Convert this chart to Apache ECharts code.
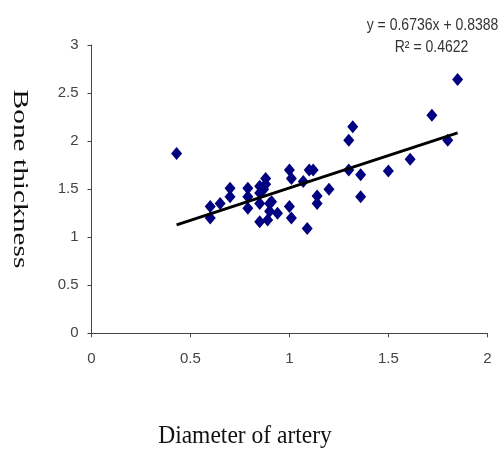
<!DOCTYPE html>
<html><head><meta charset="utf-8">
<script src="https://cdn.jsdelivr.net/npm/echarts@6/dist/echarts.min.js"></script>
<style>html,body{margin:0;padding:0;background:#fff}#c{width:503px;height:450px}</style>
</head><body><div id="c"></div>
<script>
var diameter = [0.43,0.60,0.60,0.65,0.70,0.70,0.79,0.79,0.79,0.85,0.85,0.85,0.85,0.88,0.88,0.87,0.91,0.90,0.94,0.89,0.90,1.00,1.01,1.00,1.01,1.07,1.09,1.10,1.12,1.14,1.14,1.20,1.30,1.32,1.30,1.36,1.36,1.50,1.61,1.72,1.80,1.85];
var thickness = [1.87,1.32,1.20,1.35,1.51,1.42,1.51,1.42,1.30,1.16,1.35,1.46,1.53,1.61,1.55,1.50,1.37,1.27,1.25,1.18,1.35,1.70,1.61,1.32,1.20,1.58,1.09,1.70,1.70,1.43,1.35,1.50,2.01,2.15,1.70,1.65,1.42,1.69,1.81,2.27,2.01,2.64];
var slope = 0.6736, intercept = 0.8388;
var trendRange = [0.43, 1.85];
var eqText = 'y = 0.6736x + 0.8388';
var r2Text = 'R\u00b2 = 0.4622';
var xTitle = 'Diameter of artery';
var yTitle = 'Bone thickness';

var pts = diameter.map(function(d,i){return [d, thickness[i]];});
var trend = trendRange.map(function(x){return [x, slope*x+intercept];});
var tickFont = {color:'#444', fontSize:15, fontFamily:'Liberation Sans Narrow, Liberation Sans, Arial'};
var serif = '21px "Liberation Serif", "Times New Roman", serif';
var narrow = '14px "Liberation Sans Narrow", "Liberation Sans", Arial';
var chart = echarts.init(document.getElementById('c'));
chart.setOption({
  animation:false,
  backgroundColor:'#fff',
  grid:{left:91.5,right:15.7,top:45,bottom:116.7},
  xAxis:{type:'value',min:0,max:2,interval:0.5,
    axisLine:{lineStyle:{color:'#444',width:1}},
    axisTick:{show:true,length:4,lineStyle:{color:'#444'}},
    splitLine:{show:false},
    axisLabel:Object.assign({margin:18,formatter:function(v){return String(v);}},tickFont)},
  yAxis:{type:'value',min:0,max:3,interval:0.5,
    axisLine:{show:true,lineStyle:{color:'#444',width:1}},
    axisTick:{show:true,length:4,lineStyle:{color:'#444'}},
    splitLine:{show:false},
    axisLabel:Object.assign({margin:13,formatter:function(v){return String(v);}},tickFont)},
  series:[
    {type:'line',data:trend,symbol:'none',lineStyle:{color:'#000',width:3},z:3},
    {type:'scatter',data:pts,symbol:'diamond',symbolSize:[11,13],itemStyle:{color:'#000080',opacity:1},z:2}
  ],
  graphic:[
    {type:'text',x:432.5,y:26,scaleY:1.15,style:{text:eqText,fill:'#333',font:narrow,align:'center',verticalAlign:'middle',textAlign:'center',textVerticalAlign:'middle'}},
    {type:'text',x:431.5,y:48,scaleY:1.15,style:{text:r2Text,fill:'#333',font:narrow,align:'center',verticalAlign:'middle',textAlign:'center',textVerticalAlign:'middle'}},
    {type:'text',x:245,y:436,scaleX:1.12,scaleY:1.2,style:{text:xTitle,fill:'#111',font:serif,align:'center',verticalAlign:'middle',textAlign:'center',textVerticalAlign:'middle'}},
    {type:'text',x:20,y:179,rotation:-Math.PI/2,scaleX:1.4,style:{text:yTitle,fill:'#111',font:serif,align:'center',verticalAlign:'middle',textAlign:'center',textVerticalAlign:'middle'}}
  ]
});
</script></body></html>
